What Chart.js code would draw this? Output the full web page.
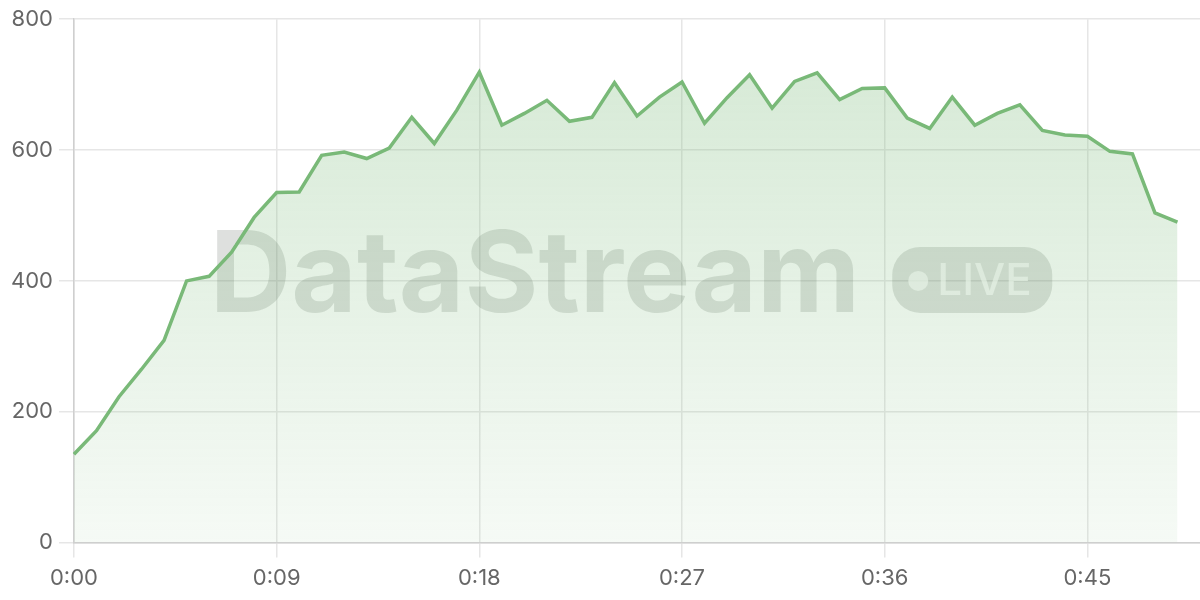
<!DOCTYPE html>
<html>
<head>
<meta charset="utf-8">
<script src="https://cdn.jsdelivr.net/npm/chart.js@4/dist/chart.umd.min.js"></script>
<style>
  html, body { margin: 0; padding: 0; background: #fff; }
  #wrap { width: 1200px; height: 600px; }
</style>
</head>
<body>
<div id="wrap"><canvas id="chart"></canvas></div>
<script>
// minutes since start, one sample per minute (axis runs to 0:50)
const labels = [];
for (let m = 0; m <= 50; m++) labels.push("0:" + String(m).padStart(2, "0"));

const viewers = [
  135, 171, 223, 265, 309, 400, 407, 444, 497, 535,
  536, 592, 597, 587, 603, 650, 610, 661, 719, 638,
  656, 676, 644, 650, 703, 652, 681, 704, 641, 680,
  715, 664, 705, 718, 677, 694, 695, 649, 633, 681,
  638, 656, 669, 630, 623, 621, 598, 594, 504, 490
];

const yTicks = [0, 200, 400, 600, 800];

// watermark "DataStream  •LIVE" behind the line
const watermark = {
  id: "watermark",
  beforeDatasetsDraw(chart) {
    const { ctx, chartArea } = chart;
    const cx = (chartArea.left + chartArea.right) / 2 - 6;
    const cy = (chartArea.top + chartArea.bottom) / 2;
    ctx.save();
    ctx.font = "bold 113px Inter, 'DejaVu Sans', sans-serif";
    const title = "DataStream";
    const tw = ctx.measureText(title).width;
    const pillW = 160, pillH = 66, gap = 32;
    const total = tw + gap + pillW;
    const x0 = cx - total / 2;
    ctx.fillStyle = "rgba(60, 70, 60, 0.17)";
    ctx.textBaseline = "alphabetic";
    ctx.fillText(title, x0, cy + 31);
    // pill
    const px = x0 + tw + gap, py = cy - 34;
    ctx.beginPath();
    ctx.roundRect(px, py, pillW, pillH, 28);
    ctx.fill();
    ctx.fillStyle = "rgba(255, 255, 255, 0.7)";
    ctx.beginPath();
    ctx.arc(px + 26, cy, 10, 0, Math.PI * 2);
    ctx.fill();
    ctx.font = "500 44px Inter, 'DejaVu Sans', sans-serif";
    ctx.textBaseline = "middle";
    ctx.fillText("LIVE", px + 45, cy + 1);
    ctx.restore();
  }
};

const ctx = document.getElementById("chart").getContext("2d");

new Chart(ctx, {
  type: "line",
  data: {
    labels: labels,
    datasets: [{
      data: viewers,
      borderColor: "#79b978",
      borderWidth: 3.5,
      pointRadius: 0,
      tension: 0,
      fill: "origin",
      backgroundColor: function(context) {
        const area = context.chart.chartArea;
        if (!area) return "rgba(121,185,120,0.2)";
        const g = context.chart.ctx.createLinearGradient(0, area.top, 0, area.bottom);
        g.addColorStop(0, "rgba(121,185,120,0.32)");
        g.addColorStop(1, "rgba(121,185,120,0.07)");
        return g;
      }
    }]
  },
  options: {
    responsive: true,
    maintainAspectRatio: false,
    animation: false,
    layout: { padding: { top: 14, right: 0, left: 5, bottom: 0 } },
    plugins: {
      legend: { display: false },
      tooltip: { enabled: false }
    },
    scales: {
      x: {
        offset: false,
        grid: { color: "#e6e6e6", lineWidth: 1.5, tickLength: 15 },
        border: { color: "#cfcfcf", width: 1.5 },
        ticks: {
          autoSkip: false,
          maxRotation: 0,
          color: "#666",
          padding: 8,
          font: { family: "Inter, 'DejaVu Sans', sans-serif", size: 22 },
          callback: function(value, index) {
            return index % 9 === 0 && index < 50 ? labels[index] : null;
          }
        }
      },
      y: {
        min: yTicks[0],
        max: yTicks[yTicks.length - 1],
        afterBuildTicks: function(scale) {
          scale.ticks = yTicks.map(v => ({ value: v }));
        },
        grid: { color: "#e6e6e6", lineWidth: 1.5, tickLength: 15 },
        border: { color: "#cfcfcf", width: 1.5 },
        ticks: {
          color: "#666",
          padding: 6,
          font: { family: "Inter, 'DejaVu Sans', sans-serif", size: 22 }
        }
      }
    }
  },
  plugins: [watermark]
});
</script>
</body>
</html>
